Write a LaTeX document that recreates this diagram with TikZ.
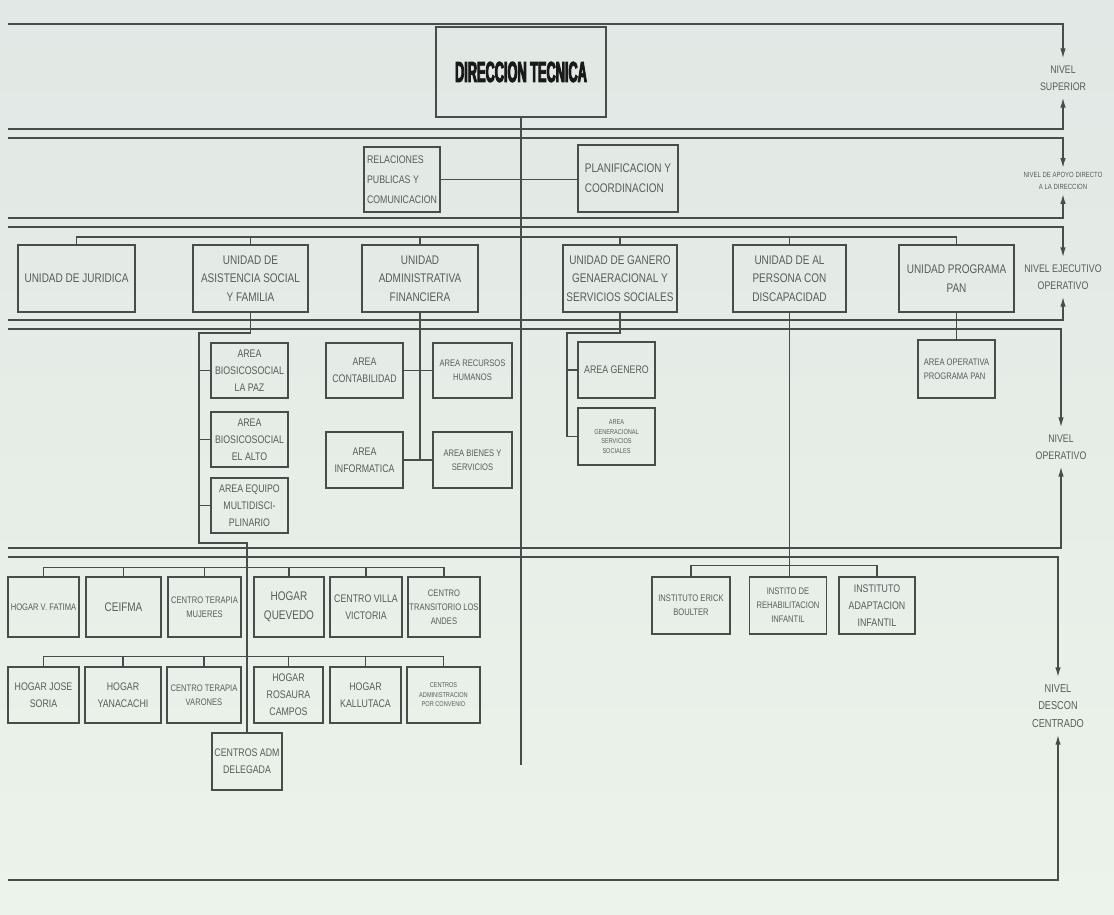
\documentclass[tikz,border=0pt]{standalone}
\usepackage{fontspec}
\setmainfont{Liberation Sans}
\newfontfamily\boxfont[FakeStretch=0.8]{Liberation Sans}
\newfontfamily\titlefont[FakeStretch=0.44,FakeBold=3]{Liberation Sans}
\usetikzlibrary{arrows.meta}

\definecolor{bgtop}{RGB}{225,232,229}
\definecolor{bgbot}{RGB}{236,243,234}
\definecolor{linec}{RGB}{72,76,74}
\definecolor{textc}{RGB}{88,92,90}

\tikzset{
    band/.style = {draw = linec, line width = 1.5pt},
    conn/.style = {draw = linec, line width = 1.3pt},
    box/.style = {
        draw = linec, line width = 1.5pt, text = textc,
        align = center, inner sep = 1pt,
        font = \boxfont\fontsize{12.5}{18.5}\selectfont
    },
    titlebox/.style = {box, text = black!90, font = \titlefont\bfseries\fontsize{29}{30}\selectfont},
    fmid/.style = {font = \boxfont\fontsize{11}{17}\selectfont},
    fsmall/.style = {font = \boxfont\fontsize{9.5}{14}\selectfont},
    ftiny/.style = {font = \boxfont\fontsize{7}{9.5}\selectfont},
    boxsize/.style 2 args = {minimum width = #1pt, minimum height = #2pt},
    lvltext/.style = {
        text = textc, align = center, inner xsep = 2pt, inner ysep = 7pt,
        font = \boxfont\fontsize{11}{17}\selectfont
    },
}

\begin{document}
\begin{tikzpicture}[x = 1pt, y = -1pt, > = {Latex[length = 10pt, width = 5.5pt]}]
    \useasboundingbox (0, 0) rectangle (1114, 915);
    \shade [top color = bgtop, bottom color = bgbot] (0, 0) rectangle (1114, 915);

    % Level labels
    \node [lvltext] (sup) at (1063, 78) {NIVEL\\SUPERIOR};
    \node [lvltext, font = \boxfont\fontsize{7.5}{12}\selectfont, inner ysep = 4pt] (apo) at (1063, 181) {NIVEL DE APOYO DIRECTO\\A LA DIRECCION};
    \node [lvltext] (eje) at (1063, 277) {NIVEL EJECUTIVO\\OPERATIVO};
    \node [lvltext] (ope) at (1061, 447) {NIVEL\\OPERATIVO};
    \node [lvltext, font = \boxfont\fontsize{11.5}{17.5}\selectfont] (des) at (1058, 706) {NIVEL\\DESCON\\CENTRADO};

    % Level lines
    \coordinate (l0) at (8, 24);
    \coordinate (l1) at (8, 129);
    \coordinate (l2) at (8, 138);
    \coordinate (l3) at (8, 218);
    \coordinate (l4) at (8, 227);
    \coordinate (l5) at (8, 320);
    \coordinate (l6) at (8, 329);
    \coordinate (l7) at (8, 548);
    \coordinate (l8) at (8, 557);
    \coordinate (l9) at (8, 880);
    \draw [band, ->] (l0) -| (sup);
    \draw [band, ->] (l1) -| (sup);
    \draw [band, ->] (l2) -| (apo);
    \draw [band, ->] (l3) -| (apo);
    \draw [band, ->] (l4) -| (eje);
    \draw [band, ->] (l5) -| (eje);
    \draw [band, ->] (l6) -| (ope);
    \draw [band, ->] (l7) -| (ope);
    \draw [band, ->] (l8) -| (des);
    \draw [band, ->] (l9) -| (des);

    % Direccion and support
    \node [titlebox, boxsize = {170}{90}] (dir) at (521, 72) {DIRECCION TECNICA};
    \node [box, boxsize = {76}{65}, align = left, font = \boxfont\fontsize{11}{20}\selectfont] (rel) at (402, 179.5) {RELACIONES\\PUBLICAS Y\\COMUNICACION};
    \node [box, boxsize = {100}{67}, align = left, font = \boxfont\fontsize{12.5}{20}\selectfont] (plan) at (628, 178.5) {PLANIFICACION Y\\COORDINACION};

    % Units
    \node [box, boxsize = {117}{67}] (jur) at (76.5, 278.5) {UNIDAD DE JURIDICA};
    \node [box, boxsize = {115}{67}] (asis) at (250.5, 278.5) {UNIDAD DE\\ASISTENCIA SOCIAL\\Y FAMILIA};
    \node [box, boxsize = {116}{67}] (adm) at (420, 278.5) {UNIDAD\\ADMINISTRATIVA\\FINANCIERA};
    \node [box, boxsize = {114}{67}] (gen) at (620, 278.5) {UNIDAD DE GANERO\\GENAERACIONAL Y\\SERVICIOS SOCIALES};
    \node [box, boxsize = {113}{67}] (dis) at (789.5, 278.5) {UNIDAD DE AL\\PERSONA CON\\DISCAPACIDAD};
    \node [box, boxsize = {115}{67}] (pan) at (956.5, 278.5) {UNIDAD PROGRAMA\\PAN};

    % Areas
    \node [box, fmid, boxsize = {77}{55}] (ap1) at (249.5, 370.5) {AREA\\BIOSICOSOCIAL\\LA PAZ};
    \node [box, fmid, boxsize = {77}{55}] (ap2) at (249.5, 439.5) {AREA\\BIOSICOSOCIAL\\EL ALTO};
    \node [box, fmid, boxsize = {77}{55}] (ap3) at (249.5, 505.5) {AREA EQUIPO\\MULTIDISCI-\\PLINARIO};
    \node [box, fmid, boxsize = {77}{55}] (ac) at (364.5, 370.5) {AREA\\CONTABILIDAD};
    \node [box, fsmall, boxsize = {79}{55}] (rh) at (472.5, 370.5) {AREA RECURSOS\\HUMANOS};
    \node [box, fmid, boxsize = {77}{56}] (ai) at (364.5, 460) {AREA\\INFORMATICA};
    \node [box, fsmall, boxsize = {79}{56}] (bs) at (472.5, 460) {AREA BIENES Y\\SERVICIOS};
    \node [box, fmid, boxsize = {77}{56}] (ag) at (616.5, 370) {AREA GENERO};
    \node [box, ftiny, boxsize = {77}{57}] (agen) at (616.5, 436.5) {AREA\\GENERACIONAL\\SERVICIOS\\SOCIALES};
    \node [box, fsmall, boxsize = {77}{58}, align = left] (aop) at (956.5, 369) {AREA OPERATIVA\\PROGRAMA PAN};

    % Institutos
    \node [box, fsmall, boxsize = {78}{57}] (ie) at (691, 605.5) {INSTITUTO ERICK\\BOULTER};
    \node [box, fsmall, boxsize = {77}{57}] (ir) at (788, 605.5) {INSTITO DE\\REHABILITACION\\INFANTIL};
    \node [box, fmid, boxsize = {76}{57}] (ia) at (877, 605.5) {INSTITUTO\\ADAPTACION\\INFANTIL};

    % Hogares y centros
    \node [box, fsmall, boxsize = {71}{60}] (h1) at (43.5, 607) {HOGAR V. FATIMA};
    \node [box, boxsize = {75}{60}] (h2) at (123.5, 607) {CEIFMA};
    \node [box, fsmall, boxsize = {73}{60}] (h3) at (204.5, 607) {CENTRO TERAPIA\\MUJERES};
    \node [box, boxsize = {70}{60}] (h4) at (289, 607) {HOGAR\\QUEVEDO};
    \node [box, fmid, boxsize = {72}{60}] (h5) at (366, 607) {CENTRO VILLA\\VICTORIA};
    \node [box, fsmall, boxsize = {72}{60}] (h6) at (444, 607) {CENTRO\\TRANSITORIO LOS\\ANDES};
    \node [box, fmid, boxsize = {71}{56}] (g1) at (43.5, 695) {HOGAR JOSE\\SORIA};
    \node [box, fmid, boxsize = {76}{56}] (g2) at (123, 695) {HOGAR\\YANACACHI};
    \node [box, fsmall, boxsize = {74}{56}] (g3) at (204, 695) {CENTRO TERAPIA\\VARONES};
    \node [box, fmid, boxsize = {69}{56}] (g4) at (288.5, 695) {HOGAR\\ROSAURA\\CAMPOS};
    \node [box, fmid, boxsize = {71}{56}] (g5) at (365.5, 695) {HOGAR\\KALLUTACA};
    \node [box, ftiny, boxsize = {73}{56}] (g6) at (443.5, 695) {CENTROS\\ADMINISTRACION\\POR CONVENIO};
    \node [box, fmid, boxsize = {70}{57}] (cad) at (247, 761.5) {CENTROS ADM\\DELEGADA};

    % Trunk and support
    \coordinate (trend) at (521, 765);
    \draw [conn] (dir) -- (trend);
    \draw [conn] (rel.east) -- (rel.east -| plan.west);

    % Units bus
    \coordinate (ubus) at (0, 237);
    \draw [conn] (jur.north) |- (ubus -| pan.north) -- (pan.north);
    \foreach \u in {asis, adm, gen, dis}
        \draw [conn] (\u.north) -- (\u.north |- ubus);

    % Asistencia social
    \coordinate (abr) at (199, 333);
    \coordinate (abot) at (199, 543);
    \draw [conn] (asis.south) |- (abr) -- (abot) -| (cad.north);
    \foreach \a in {ap1, ap2, ap3}
        \draw [conn] (\a.west) -- (\a.west -| abr);

    % Administrativa
    \draw [conn] (adm.south) -- (adm.south |- ai.east);
    \draw [conn] (ac) -- (rh);
    \draw [conn] (ai) -- (bs);

    % Genero
    \coordinate (gbr) at (567, 333);
    \draw [conn] (gen.south) |- (gbr) -- (gbr |- agen.west) -- (agen.west);
    \draw [conn] (ag.west) -- (ag.west -| gbr);

    % Programa PAN
    \draw [conn] (pan.south) -- (pan.south |- aop.north);

    % Discapacidad
    \draw [conn] (dis.south) -- (dis.south |- ir.north);
    \draw [conn] (ie.north) -- ++(0, -11) -| (ia.north);

    % Hogares
    \draw [conn] (h1.north) -- ++(0, -9) -| (h6.north);
    \foreach \h in {h2, h3, h4, h5}
        \draw [conn] (\h.north) -- ++(0, -9);
    \draw [conn] (g1.north) -- ++(0, -10) -| (g6.north);
    \foreach \g in {g2, g3, g4, g5}
        \draw [conn] (\g.north) -- ++(0, -10);

\end{tikzpicture}
\end{document}
